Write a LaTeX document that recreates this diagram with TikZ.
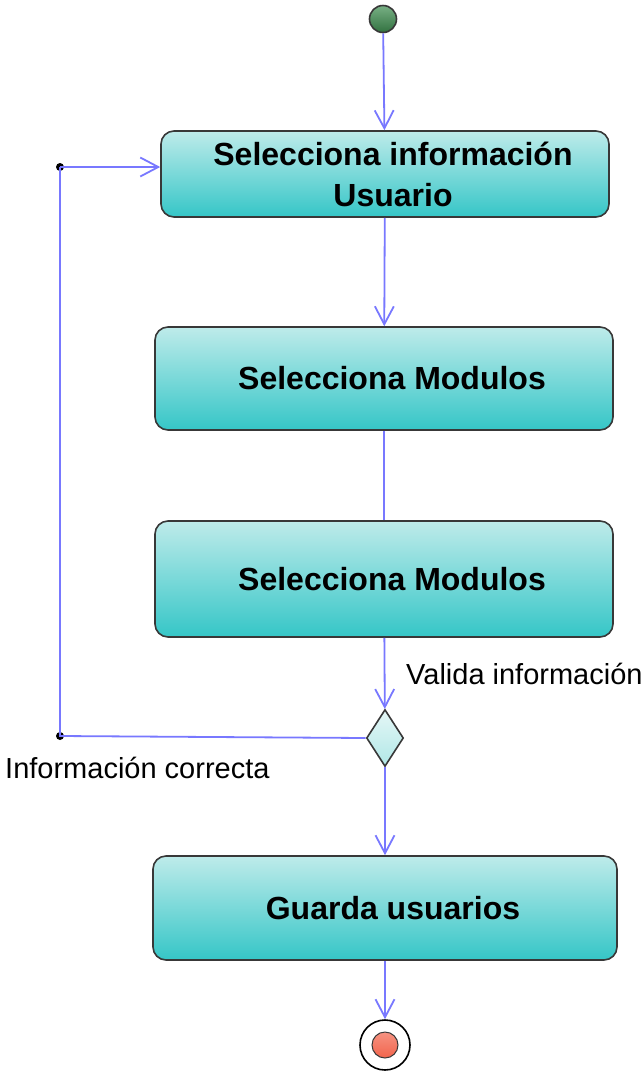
\documentclass[tikz,border=0pt]{standalone}
\usepackage{fontspec}
\setmainfont{Liberation Sans}
\usetikzlibrary{arrows.meta,shapes.geometric}
\definecolor{boxtop}{HTML}{BEEBEA}
\definecolor{boxbot}{HTML}{35C6C7}
\definecolor{flow}{HTML}{7878FF}
\definecolor{edgegray}{HTML}{383838}
\definecolor{startgreen}{HTML}{3E8E50}
\definecolor{endred}{HTML}{F2644C}

\tikzset{
    activity/.style={draw=edgegray, line width=1.6pt, rounded corners=13pt,
        top color=boxtop, bottom color=boxbot, align=center,
        font=\fontsize{32}{41}\selectfont\bfseries, inner sep=0pt},
    decision/.style={diamond, draw=edgegray, line width=1.6pt, aspect=0.64,
        minimum width=37pt, minimum height=57pt, inner sep=0pt,
        top color=boxtop!40, bottom color=boxtop!90!boxbot},
    flowline/.style={draw=flow, line width=1.8pt},
    flowarrow/.style={flowline, -{Straight Barb[length=18pt,width=19pt,line width=1.8pt]}},
    guard/.style={anchor=west, inner sep=0pt, font=\fontsize{29}{34}\selectfont},
    joint/.style={circle, fill=black, inner sep=0pt, minimum size=8pt}
}

\begin{document}
\begin{tikzpicture}[x=1pt, y=-1pt]
        \useasboundingbox (0,0) rectangle (644,1072);
        \node[circle, draw=edgegray, line width=1.6pt, minimum size=27pt, inner sep=0pt,
              top color=startgreen!70!white, bottom color=startgreen!80!black](start) at (383,19) {};
        \node[activity, minimum width=448pt, minimum height=86pt](selinfo) at (385,174)
            {\hspace*{16pt}Selecciona información\\\hspace*{16pt}Usuario};
        \node[activity, minimum width=458pt, minimum height=103pt](selmod) at (384,378.5)
            {\hspace*{16pt}Selecciona Modulos};
        \node[activity, minimum width=458pt, minimum height=116pt](selmodb) at (384,579)
            {\hspace*{16pt}Selecciona Modulos};
        \node[decision](valida) at (385,738) {};
        \node[activity, minimum width=464pt, minimum height=104pt](guarda) at (385,908)
            {\hspace*{16pt}Guarda usuarios};
        \node[circle, draw=black, line width=1.6pt, fill=white, minimum size=50pt, inner sep=0pt](end) at (385,1045) {};
        \node[circle, draw=edgegray, line width=1pt, minimum size=26pt, inner sep=0pt,
              top color=endred!70!white, bottom color=endred](endin) at (end) {};
        \node[joint](loopdown) at (60,736) {};
        \node[joint](loopup) at (60,167) {};
        \node[guard](lblvalida) at (406,674) {Valida información};
        \node[guard](lblcorrecta) at (5,768) {Información correcta};

        \path[flowarrow] (start) edge (selinfo)
            (selinfo) edge (selmod)
            (selmodb) edge (valida)
            (valida) edge (guarda)
            (guarda) edge (end);
        \draw[flowline] (selmod) -- (selmodb);
        \draw[flowline] (valida.west) -- (loopdown.center) -- (loopup.center);
        \draw[flowarrow] (loopup.center) -- (loopup -| selinfo.west);
    \end{tikzpicture}
\end{document}
